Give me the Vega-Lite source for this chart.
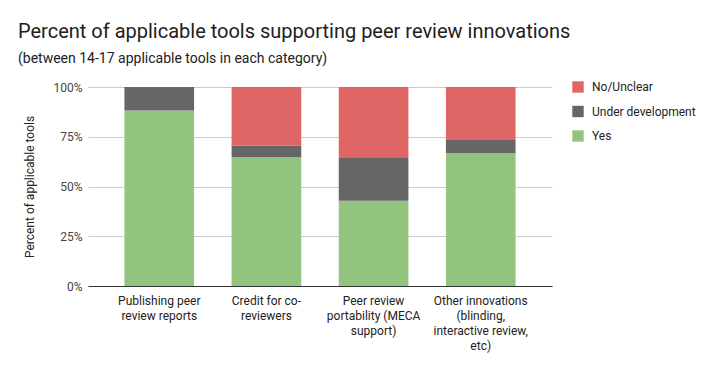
{
  "$schema": "https://vega.github.io/schema/vega-lite/v6.json",
  "width": 464,
  "height": 199,
  "autosize": {"type": "none"},
  "padding": {"left": 88, "top": 87, "right": 164, "bottom": 85},
  "background": "white",
  "title": {
    "text": "Percent of applicable tools supporting peer review innovations",
    "subtitle": "(between 14-17 applicable tools in each category)",
    "anchor": "start",
    "frame": "group",
    "dx": -70,
    "offset": 15,
    "font": "Roboto",
    "fontSize": 20,
    "fontWeight": "normal",
    "color": "#212121",
    "subtitleFont": "Roboto",
    "subtitleFontSize": 14,
    "subtitleColor": "#212121",
    "subtitlePadding": 10
  },
  "data": {
    "values": [
      {"category": "Publishing peer review reports", "status": "Yes", "rank": 1, "count": 15},
      {"category": "Publishing peer review reports", "status": "Under development", "rank": 2, "count": 2},
      {"category": "Publishing peer review reports", "status": "No/Unclear", "rank": 3, "count": 0},
      {"category": "Credit for co-reviewers", "status": "Yes", "rank": 1, "count": 11},
      {"category": "Credit for co-reviewers", "status": "Under development", "rank": 2, "count": 1},
      {"category": "Credit for co-reviewers", "status": "No/Unclear", "rank": 3, "count": 5},
      {"category": "Peer review portability (MECA support)", "status": "Yes", "rank": 1, "count": 6},
      {"category": "Peer review portability (MECA support)", "status": "Under development", "rank": 2, "count": 3},
      {"category": "Peer review portability (MECA support)", "status": "No/Unclear", "rank": 3, "count": 5},
      {"category": "Other innovations (blinding, interactive review, etc)", "status": "Yes", "rank": 1, "count": 10},
      {"category": "Other innovations (blinding, interactive review, etc)", "status": "Under development", "rank": 2, "count": 1},
      {"category": "Other innovations (blinding, interactive review, etc)", "status": "No/Unclear", "rank": 3, "count": 4}
    ]
  },
  "mark": {"type": "bar"},
  "encoding": {
    "x": {
      "field": "category",
      "type": "nominal",
      "sort": null,
      "scale": {"paddingInner": 0.35, "paddingOuter": 0.34},
      "axis": {
        "title": null,
        "labelAngle": 0,
        "labelFont": "Roboto",
        "labelFontSize": 12,
        "labelColor": "#222222",
        "labelPadding": 9,
        "labelLineHeight": 15,
        "labelBaseline": "top",
        "ticks": false,
        "domainColor": "#333333",
        "labelExpr": "datum.label == 'Publishing peer review reports' ? ['Publishing peer', 'review reports'] : datum.label == 'Credit for co-reviewers' ? ['Credit for co-', 'reviewers'] : datum.label == 'Peer review portability (MECA support)' ? ['Peer review', 'portability (MECA', 'support)'] : ['Other innovations', '(blinding,', 'interactive review,', 'etc)']"
      }
    },
    "y": {
      "field": "count",
      "type": "quantitative",
      "stack": "normalize",
      "scale": {"domain": [0, 1]},
      "axis": {
        "title": "Percent of applicable tools",
        "titleFont": "Roboto",
        "titleFontSize": 12,
        "titleFontWeight": "normal",
        "titleColor": "#222222",
        "titlePadding": 16,
        "format": ".0%",
        "values": [0, 0.25, 0.5, 0.75, 1],
        "labelFont": "Roboto",
        "labelFontSize": 12,
        "labelColor": "#444444",
        "labelPadding": 6,
        "ticks": false,
        "domain": false,
        "gridColor": "#cccccc"
      }
    },
    "color": {
      "field": "status",
      "type": "nominal",
      "scale": {
        "domain": ["No/Unclear", "Under development", "Yes"],
        "range": ["#e06666", "#666666", "#93c47d"]
      },
      "legend": {
        "title": null,
        "orient": "none",
        "legendX": 484,
        "legendY": -6,
        "symbolType": "square",
        "symbolSize": 130,
        "symbolStrokeWidth": 0,
        "labelFont": "Roboto",
        "labelFontSize": 12,
        "labelColor": "#222222",
        "rowPadding": 12.5,
        "labelOffset": 8
      }
    },
    "order": {"field": "rank", "type": "quantitative"}
  },
  "config": {
    "view": {"stroke": null}
  }
}
